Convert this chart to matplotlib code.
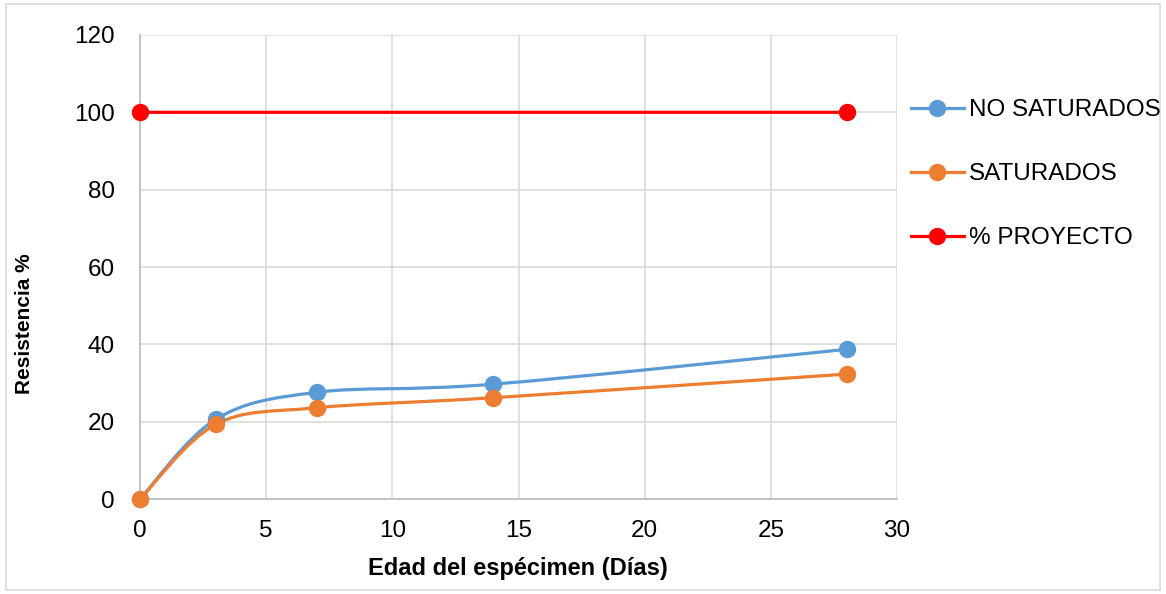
import numpy as np
import matplotlib.pyplot as plt
from matplotlib.path import Path
from matplotlib.patches import PathPatch, Rectangle
from matplotlib.lines import Line2D

plt.rcParams['font.family'] = ['Liberation Sans', 'DejaVu Sans']

# edad de ensayo (dias) y resistencia alcanzada (%)
dias = [0, 3, 7, 14, 28]
no_saturados = [0, 20.6, 27.6, 29.7, 38.7]
saturados = [0, 19.3, 23.6, 26.2, 32.3]
dias_proyecto = [0, 28]
proyecto = [100, 100]

series = [('NO SATURADOS', '#5B9BD5'), ('SATURADOS', '#ED7D31'), ('% PROYECTO', '#FF0000')]


def curva_suave(x, y):
    # curva tipo Bezier que pasa por todos los puntos (linea suavizada)
    p = np.column_stack([x, y]).astype(float)
    ext = np.vstack([p[0], p, p[-1]])
    verts = [p[0]]
    codes = [Path.MOVETO]
    for i in range(len(p) - 1):
        p0, p1, p2, p3 = ext[i], ext[i + 1], ext[i + 2], ext[i + 3]
        c1 = p1 + (p2 - p0) / 6
        c2 = p2 - (p3 - p1) / 6
        verts += [c1, c2, p2]
        codes += [Path.CURVE4] * 3
    return Path(verts, codes)


fig = plt.figure(figsize=(11.66, 5.94), dpi=100)
ax = fig.add_axes([0.1201, 0.1599, 0.6492, 0.7812])

lw = 2.3
ms = 11.5
for (nombre, color), (xs, ys) in zip(series, [(dias, no_saturados), (dias, saturados), (dias_proyecto, proyecto)]):
    ax.add_patch(PathPatch(curva_suave(xs, ys), facecolor='none', edgecolor=color,
                           lw=lw, capstyle='round', zorder=3))
    ax.plot(xs, ys, linestyle='none', marker='o', ms=ms, color=color, zorder=4, clip_on=False)

ax.set_xlim(0, 30)
ax.set_ylim(0, 120)
ax.set_xticks(range(0, 31, 5))
ax.set_yticks(range(0, 121, 20))
ax.grid(True, color='#D9D9D9', lw=1.2)
ax.set_axisbelow(True)
for s in ['top', 'right']:
    ax.spines[s].set_visible(False)
for s in ['left', 'bottom']:
    ax.spines[s].set_color('#BFBFBF')
    ax.spines[s].set_linewidth(1.3)
ax.tick_params(length=0, labelsize=17.5, colors='black')
ax.tick_params(axis='y', pad=18)
ax.tick_params(axis='x', pad=15)

fig.text(0.444, 0.043, 'Edad del espécimen (Días)', ha='center', va='center',
         fontsize=17, fontweight='bold')
fig.text(0.021, 0.455, 'Resistencia %', ha='center', va='center', rotation=90,
         fontsize=15, fontweight='bold')

handles = [Line2D([], [], color=c, lw=lw, marker='o', ms=ms) for _, c in series]
fig.legend(handles, [n for n, _ in series], loc='upper left',
           bbox_to_anchor=(0.7705, 0.853), frameon=False, fontsize=17.5,
           handlelength=2.2, handletextpad=0.2, labelspacing=1.72, borderpad=0)

fig.patches.append(Rectangle((0.005, 0.007), 0.99, 0.986, transform=fig.transFigure,
                             fill=False, edgecolor='#D9D9D9', lw=1.2))

fig.savefig('out.png', dpi=100)
